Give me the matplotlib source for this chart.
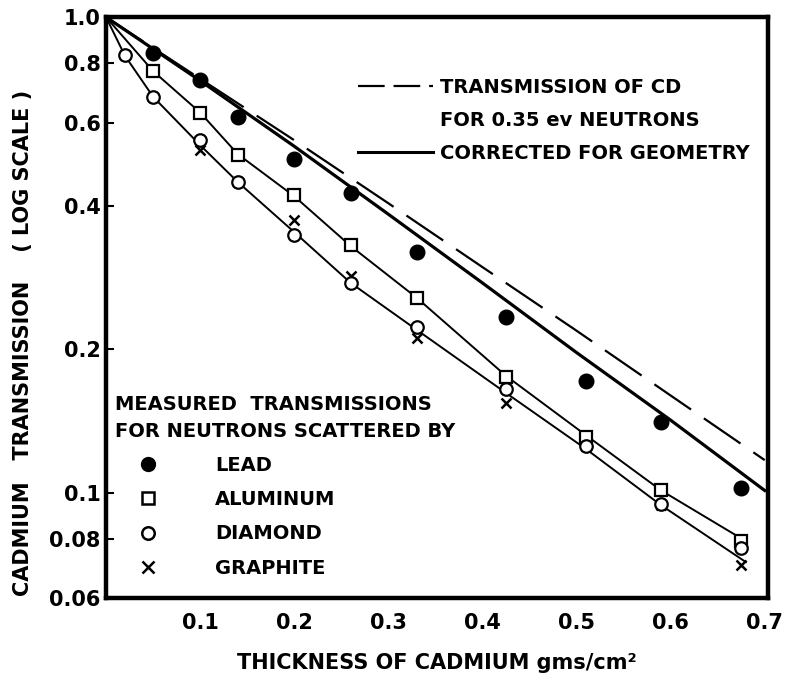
import matplotlib
matplotlib.use("Agg")
import matplotlib.pyplot as plt
from matplotlib.lines import Line2D
from matplotlib.ticker import FixedLocator, NullLocator

# =========================
# DATA
# =========================

thickness = [0.05, 0.10, 0.14, 0.20, 0.26, 0.33, 0.425, 0.51, 0.59, 0.675]

lead = [0.84, 0.737, 0.616, 0.503, 0.426, 0.320, 0.234, 0.172, 0.141, 0.102]
aluminum = [0.770, 0.628, 0.513, 0.422, 0.331, 0.257, 0.175, 0.131, 0.101, 0.079]

thickness_low = [0.02, 0.05, 0.10, 0.14, 0.20, 0.26, 0.33, 0.425, 0.51, 0.59, 0.675]
diamond = [0.832, 0.679, 0.551, 0.450, 0.348, 0.276, 0.223, 0.165, 0.125, 0.0946, 0.0764]
graphite = [0.832, 0.679, 0.525, 0.450, 0.374, 0.285, 0.211, 0.154, 0.125, 0.094, 0.0704]

# transmission of Cd for 0.35 ev neutrons (dashed) and corrected for geometry (solid)
line_x = [0.0, 0.1, 0.2, 0.3, 0.4, 0.5, 0.6, 0.7]
cd_trans = [1.0, 0.742, 0.551, 0.406, 0.298, 0.219, 0.160, 0.117]
cd_corr = [1.0, 0.735, 0.535, 0.385, 0.276, 0.197, 0.142, 0.101]

# fitted curves through measured points
fit_x = [0.0, 0.05, 0.10, 0.14, 0.20, 0.26, 0.33, 0.425, 0.51, 0.59, 0.68]
al_fit = [1.0, 0.77, 0.63, 0.515, 0.42, 0.33, 0.257, 0.176, 0.132, 0.101, 0.079]
low_fit_x = [0.0, 0.02, 0.05, 0.10, 0.14, 0.20, 0.26, 0.33, 0.425, 0.51, 0.59, 0.68]
low_fit = [1.0, 0.83, 0.68, 0.538, 0.450, 0.353, 0.276, 0.220, 0.162, 0.1235, 0.094, 0.0714]

y_ticks = [0.06, 0.08, 0.1, 0.2, 0.4, 0.6, 0.8, 1.0]
y_tick_labels = ["0.06", "0.08", "0.1", "0.2", "0.4", "0.6", "0.8", "1.0"]
x_ticks = [0.1, 0.2, 0.3, 0.4, 0.5, 0.6, 0.7]
x_tick_labels = ["0.1", "0.2", "0.3", "0.4", "0.5", "0.6", "0.7"]

# =========================
# FIGURE
# =========================

plt.rcParams['font.family'] = ['DejaVu Sans']
plt.rcParams['font.weight'] = 'bold'

fig = plt.figure(figsize=(7.86, 6.85), dpi=100)
ax = fig.add_axes([0.1349, 0.127, 0.8416, 0.848])

ax.set_yscale('log')
ax.set_xlim(0, 0.703)
ax.set_ylim(0.06, 1.0)

# lines
ax.plot(line_x, cd_trans, color='black', lw=1.6, dashes=(20, 7))
ax.plot(line_x, cd_corr, color='black', lw=2.3)
ax.plot(fit_x, al_fit, color='black', lw=1.4)
ax.plot(low_fit_x, low_fit, color='black', lw=1.4)

# points
ax.plot(thickness, lead, 'o', color='black', ms=10.5, ls='none')
ax.plot(thickness, aluminum, 's', mfc='white', mec='black', mew=1.6, ms=8.5, ls='none')
ax.plot(thickness_low, graphite, 'x', color='black', mew=1.8, ms=7.5, ls='none')
ax.plot(thickness_low, diamond, 'o', mfc='white', mec='black', mew=1.6, ms=9, ls='none')

# axes styling
for side in ['left', 'right', 'top', 'bottom']:
    ax.spines[side].set_linewidth(3.2)

ax.yaxis.set_major_locator(FixedLocator(y_ticks))
ax.yaxis.set_minor_locator(NullLocator())
ax.set_yticklabels(y_tick_labels)
ax.set_xticks(x_ticks)
ax.set_xticklabels(x_tick_labels)

ax.tick_params(axis='y', direction='in', length=6, width=1.5, pad=4, labelsize=15)
ax.tick_params(axis='x', length=0, pad=11, labelsize=15)

ax.set_xlabel("THICKNESS OF CADMIUM gms/cm\u00b2", fontsize=15, fontweight='bold', labelpad=14)
fig.text(0.029, 0.499, "CADMIUM   TRANSMISSION    ( LOG SCALE )",
         rotation=90, ha='center', va='center', fontsize=15, fontweight='bold')

# =========================
# LEGENDS
# =========================

upper_handles = [
    Line2D([], [], color='black', lw=1.6, dashes=(12, 4)),
    Line2D([], [], ls='none'),
    Line2D([], [], color='black', lw=2.2),
]
upper_labels = ["TRANSMISSION OF CD", "FOR 0.35 ev NEUTRONS", "CORRECTED FOR GEOMETRY"]
leg1 = ax.legend(upper_handles, upper_labels, loc='upper left',
                 bbox_to_anchor=(0.381, 0.895), frameon=False,
                 fontsize=14, handlelength=3.87, handletextpad=0.36,
                 borderpad=0, borderaxespad=0, labelspacing=0.72)
ax.add_artist(leg1)

lower_handles = [
    Line2D([], [], marker='o', color='black', ms=10, ls='none'),
    Line2D([], [], marker='s', mfc='white', mec='black', mew=1.8, ms=9, ls='none'),
    Line2D([], [], marker='o', mfc='white', mec='black', mew=1.8, ms=9, ls='none'),
    Line2D([], [], marker='x', color='black', mew=1.8, ms=8, ls='none'),
]
lower_labels = ["LEAD", "ALUMINUM", "DIAMOND", "GRAPHITE"]
leg2 = ax.legend(lower_handles, lower_labels, loc='upper left',
                 bbox_to_anchor=(0.0136, 0.350), frameon=False,
                 title="MEASURED  TRANSMISSIONS\nFOR NEUTRONS SCATTERED BY",
                 title_fontsize=14, alignment='left',
                 fontsize=14, handlelength=3.4, handletextpad=1.75,
                 borderpad=0, borderaxespad=0, labelspacing=0.78)
leg2.get_title().set_fontweight('bold')
leg2.get_title().set_linespacing(1.55)

plt.savefig("out.png", dpi=100)
plt.close()
